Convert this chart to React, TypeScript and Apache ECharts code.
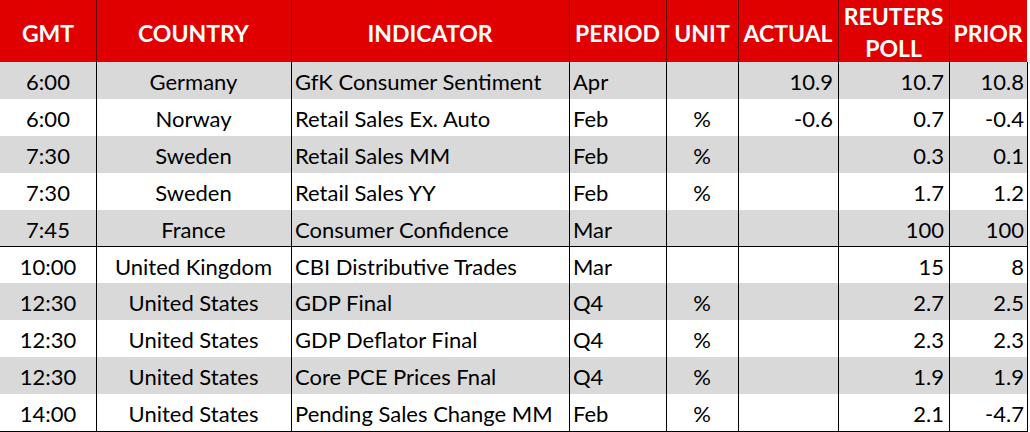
import React, { useEffect, useRef } from "react";
import * as echarts from "echarts";

const headers = ["GMT", "COUNTRY", "INDICATOR", "PERIOD", "UNIT", "ACTUAL", "REUTERS\nPOLL", "PRIOR"];
const gmt = ["6:00", "6:00", "7:30", "7:30", "7:45", "10:00", "12:30", "12:30", "12:30", "14:00"];
const countries = ["Germany", "Norway", "Sweden", "Sweden", "France", "United Kingdom", "United States", "United States", "United States", "United States"];
const indicators = [
  "GfK Consumer Sentiment",
  "Retail Sales Ex. Auto",
  "Retail Sales MM",
  "Retail Sales YY",
  "Consumer Confidence",
  "CBI Distributive Trades",
  "GDP Final",
  "GDP Deflator Final",
  "Core PCE Prices Fnal",
  "Pending Sales Change MM",
];
const periods = ["Apr", "Feb", "Feb", "Feb", "Mar", "Mar", "Q4", "Q4", "Q4", "Feb"];
const units = ["", "%", "%", "%", "", "", "%", "%", "%", "%"];
const actual = ["10.9", "-0.6", "", "", "", "", "", "", "", ""];
const poll = ["10.7", "0.7", "0.3", "1.7", "100", "15", "2.7", "2.3", "1.9", "2.1"];
const prior = ["10.8", "-0.4", "0.1", "1.2", "100", "8", "2.5", "2.3", "1.9", "-4.7"];

const EDGES = [0, 96, 291, 569, 666, 738, 838, 949, 1027];
const ALIGN = ["center", "center", "left", "left", "center", "right", "right", "right"];
const HEADER_H = 62;
const FONT = "Lato, 'Open Sans', sans-serif";

function cellX(c: number) {
  const a = ALIGN[c];
  if (a === "center") return (EDGES[c] + EDGES[c + 1]) / 2;
  if (a === "left") return EDGES[c] + 4;
  return EDGES[c + 1] - (c === 7 ? 3 : 5);
}

export default function App() {
  const ref = useRef<HTMLDivElement>(null);
  useEffect(() => {
    if (!ref.current) return;
    const chart = echarts.init(ref.current, null, { renderer: "svg" });
    const rows = gmt.map((g, i) => [i, g, countries[i], indicators[i], periods[i], units[i], actual[i], poll[i], prior[i]]);

    const headerEls: any[] = [
      { type: "rect", shape: { x: 0, y: 0, width: EDGES[8], height: HEADER_H }, style: { fill: "#E00000" }, silent: true },
    ];
    for (let c = 1; c < EDGES.length - 1; c++) {
      headerEls.push({
        type: "line",
        shape: { x1: EDGES[c] + 0.5, y1: 0, x2: EDGES[c] + 0.5, y2: HEADER_H },
        style: { stroke: "#5a0000", lineWidth: 1 },
      });
    }
    headers.forEach((h, c) => {
      headerEls.push({
        type: "text",
        x: (EDGES[c] + EDGES[c + 1]) / 2,
        y: h.includes("\n") ? 32 : 33,
        style: {
          text: h,
          fill: "#ffffff",
          font: `bold 23px ${FONT}`,
          align: "center",
          verticalAlign: "middle",
          lineHeight: 32,
        },
      });
    });
    headerEls.push({
      type: "line",
      shape: { x1: 0, y1: HEADER_H + 0.5, x2: EDGES[8] + 1, y2: HEADER_H + 0.5 },
      style: { stroke: "#000", lineWidth: 1 },
    });

    chart.setOption({
      animation: false,
      grid: { left: 0, right: 0, top: HEADER_H, bottom: 1 },
      xAxis: { type: "value", min: 0, max: 1030, show: false },
      yAxis: { type: "category", data: gmt.map((_, i) => String(i)), inverse: true, show: false },
      graphic: headerEls,
      series: [
        {
          type: "custom",
          data: rows,
          encode: { x: -1, y: 0 },
          renderItem: (params: any, api: any) => {
            const i = api.value(0);
            const center = api.coord([0, i]);
            const h = api.size([0, 1])[1];
            const y0 = Math.round(center[1] - h / 2);
            const y1 = Math.round(center[1] + h / 2);
            const cy = (y0 + y1) / 2;
            const children: any[] = [
              {
                type: "rect",
                shape: { x: 0, y: y0, width: EDGES[8], height: y1 - y0 },
                style: { fill: i % 2 === 0 ? "#D9D9D9" : "#FFFFFF" },
              },
            ];
            const vals = rows[i].slice(1) as string[];
            vals.forEach((v, c) => {
              if (!v) return;
              children.push({
                type: "text",
                x: cellX(c),
                y: cy + 1,
                style: {
                  text: v,
                  fill: "#000",
                  font: `22px ${FONT}`,
                  align: ALIGN[c],
                  verticalAlign: "middle",
                },
              });
            });
            for (let c = 1; c < EDGES.length; c++) {
              children.push({
                type: "line",
                shape: { x1: EDGES[c] + 0.5, y1: y0, x2: EDGES[c] + 0.5, y2: y1 },
                style: { stroke: "#000", lineWidth: 1 },
              });
            }
            children.push({
              type: "line",
              shape: { x1: 0, y1: y1 + 0.5, x2: EDGES[8] + 1, y2: y1 + 0.5 },
              style: { stroke: "#000", lineWidth: 1 },
            });
            return { type: "group", children };
          },
        },
      ],
    });
    return () => chart.dispose();
  }, []);
  return <div ref={ref} style={{ position: "fixed", left: 0, top: 0, width: 1030, height: 432, background: "#fff" }} />;
}
